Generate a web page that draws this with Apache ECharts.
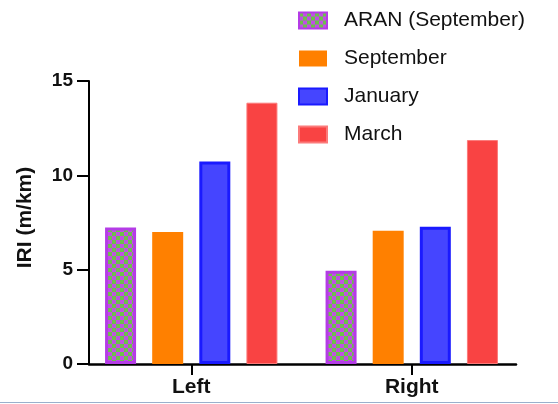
<!DOCTYPE html>
<html>
<head>
<meta charset="utf-8">
<script src="https://cdn.jsdelivr.net/npm/echarts@6/dist/echarts.min.js"></script>
<style>
html,body{margin:0;padding:0;background:#fff;}
#c{width:558px;height:404px;}
</style>
</head>
<body>
<div id="c"></div>
<script>
var categories = ['Left', 'Right'];
var seriesNames = ['ARAN (September)', 'September', 'January', 'March'];
var aranSeptember = [7.23, 4.94];
var september = [7.0, 7.06];
var january = [10.73, 7.27];
var march = [13.85, 11.87];
var yTicks = [0, 5, 10, 15];

var FONT = 'Liberation Sans, Arial, sans-serif';

// checker pattern for ARAN
var pc = document.createElement('canvas');
pc.width = 8; pc.height = 8;
var g = pc.getContext('2d');
g.fillStyle = '#c24ee6'; g.fillRect(0, 0, 8, 8);
g.fillStyle = '#6cc04a'; g.fillRect(0, 0, 4, 4); g.fillRect(4, 4, 4, 4);
var pattern = { image: pc, repeat: 'repeat' };

var chart = echarts.init(document.getElementById('c'), null, { renderer: 'canvas' });

function barSeries(name, data, style) {
  return {
    name: name, type: 'bar', data: data,
    xAxisIndex: 0, yAxisIndex: 0,
    barWidth: 31, barGap: '52%',
    itemStyle: style
  };
}

var option = {
  animation: false,
  backgroundColor: '#ffffff',
  textStyle: { fontFamily: FONT },
  legend: {
    orient: 'vertical',
    left: 293, top: 5,
    icon: 'rect',
    itemWidth: 28, itemHeight: 16,
    itemGap: 17,
    textStyle: { fontSize: 21, color: '#111', fontFamily: FONT, padding: [0, 0, 0, 12] },
    data: seriesNames
  },
  grid: [
    { left: 81, right: 36, top: 81, bottom: 40, containLabel: false },
    { left: 89, right: 42, top: 81, bottom: 40, containLabel: false }
  ],
  xAxis: [
    {
      gridIndex: 0, type: 'category', data: categories,
      axisLine: { show: false },
      axisTick: { show: true, alignWithLabel: true, length: 11, lineStyle: { color: '#000', width: 2 } },
      axisLabel: { fontSize: 21, fontWeight: 'bold', color: '#111', margin: 13, fontFamily: FONT }
    },
    {
      gridIndex: 1, type: 'value', min: 0, max: 1,
      axisLine: { show: true, onZero: false, lineStyle: { color: '#000', width: 2.5 } },
      axisTick: { show: false }, axisLabel: { show: false }, splitLine: { show: false }
    }
  ],
  yAxis: [
    {
      gridIndex: 0, type: 'value', min: 0, max: 15, interval: 5,
      axisLine: { show: false }, axisTick: { show: false }, axisLabel: { show: false }, splitLine: { show: false }
    },
    {
      gridIndex: 1, type: 'value', min: 0, max: 15, interval: 5,
      name: 'IRI (m/km)', nameLocation: 'middle', nameGap: 53, nameRotate: 90,
      nameTextStyle: { fontSize: 21, fontWeight: 'bold', color: '#111', fontFamily: FONT, padding: [0, 0, 0, 10] },
      axisLine: { show: true, lineStyle: { color: '#000', width: 2 } },
      axisTick: { show: true, length: 12, lineStyle: { color: '#000', width: 2 } },
      axisLabel: { fontSize: 19, fontWeight: 'bold', color: '#111', margin: 16, fontFamily: FONT,
        formatter: function (v) { return yTicks.indexOf(v) >= 0 ? String(v) : ''; } },
      splitLine: { show: false }
    }
  ],
  series: [
    barSeries(seriesNames[0], aranSeptember, { color: pattern, borderColor: '#b43ce6', borderWidth: 3 }),
    barSeries(seriesNames[1], september, { color: '#ff8000' }),
    barSeries(seriesNames[2], january, { color: '#4545ff', borderColor: '#1a1aff', borderWidth: 3 }),
    barSeries(seriesNames[3], march, { color: '#f94343', borderColor: '#fb7a7a', borderWidth: 1 })
  ],
  graphic: [
    { type: 'line', z: 100, shape: { x1: 0, y1: 402.5, x2: 558, y2: 402.5 }, style: { stroke: '#9ab0cc', lineWidth: 1 } }
  ]
};
chart.setOption(option);
</script>
</body>
</html>
